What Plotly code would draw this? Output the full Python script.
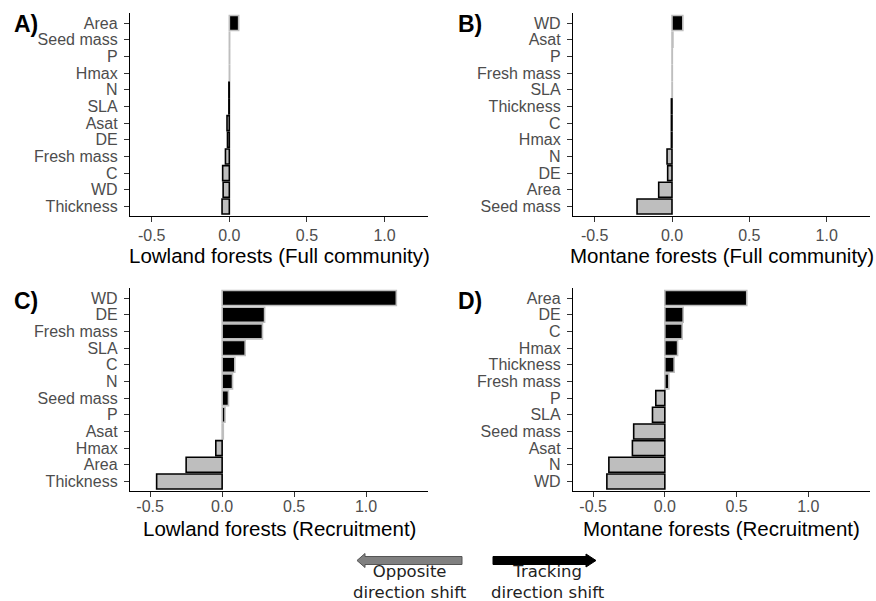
import plotly.graph_objects as go

W, H = 876, 601
GREY = "#BEBEBE"

# ---------------- data (top-to-bottom order as displayed) ----------------
a_traits = ["Area", "Seed mass", "P", "Hmax", "N", "SLA", "Asat", "DE",
            "Fresh mass", "C", "WD", "Thickness"]
a_values = [0.060, 0.002, 0.002, 0.002, -0.003, -0.003, -0.015, -0.012,
            -0.025, -0.043, -0.040, -0.047]

b_traits = ["WD", "Asat", "P", "Fresh mass", "SLA", "Thickness", "C", "Hmax",
            "N", "DE", "Area", "Seed mass"]
b_values = [0.070, 0.006, 0.002, 0.002, 0.002, -0.004, -0.004, -0.004,
            -0.032, -0.028, -0.086, -0.226]

c_traits = ["WD", "DE", "Fresh mass", "SLA", "C", "N", "Seed mass", "P",
            "Asat", "Hmax", "Area", "Thickness"]
c_values = [1.210, 0.295, 0.280, 0.160, 0.088, 0.072, 0.044, 0.020,
            0.008, -0.044, -0.250, -0.455]

d_traits = ["Area", "DE", "C", "Hmax", "Thickness", "Fresh mass", "P", "SLA",
            "Seed mass", "Asat", "N", "WD"]
d_values = [0.571, 0.128, 0.121, 0.089, 0.065, 0.028, -0.063, -0.086,
            -0.217, -0.226, -0.390, -0.404]

x_ticks = [-0.5, 0.0, 0.5, 1.0]
x_tick_labels = ["-0.5", "0.0", "0.5", "1.0"]

panel_letters = ["A)", "B)", "C)", "D)"]
panel_titles = ["Lowland forests (Full community)", "Montane forests (Full community)",
                "Lowland forests (Recruitment)", "Montane forests (Recruitment)"]

panels = [(a_traits, a_values), (b_traits, b_values),
          (c_traits, c_values), (d_traits, d_values)]

# ---------------- layout geometry (pixels) ----------------
def px_x(p):
    return p / W

def px_y(p):
    return 1 - p / H

x_doms = [(130, 428), (573, 870), (130, 428), (573, 870)]
y_doms = [(13, 216), (13, 216), (288, 491), (288, 491)]
x_ranges = [[-0.64, 1.28], [-0.64, 1.28], [-0.64, 1.43], [-0.64, 1.43]]
x_standoff = [0, 0, -4, -4]
letter_pos = [(12, 24), (456, 24), (12, 301), (456, 301)]
title_y = [255, 255, 528, 528]

FONT = "Liberation Sans, Arial, Helvetica, sans-serif"

fig = go.Figure()
layout = dict(
    width=W, height=H,
    margin=dict(l=0, r=0, t=0, b=0),
    paper_bgcolor="white", plot_bgcolor="white",
    showlegend=False,
    bargap=0.1,
    font=dict(family=FONT, size=16, color="#4D4D4D"),
)

annotations = []
for i, (traits, vals) in enumerate(panels):
    sfx = "" if i == 0 else str(i + 1)
    fills = ["black" if v > 0 else GREY for v in vals]
    lines = [GREY if v > 0 else "black" for v in vals]
    fig.add_trace(go.Bar(
        x=vals, y=traits, orientation="h",
        marker=dict(color=fills, line=dict(color=lines, width=1.6)),
        width=0.9,
        xaxis="x" + sfx, yaxis="y" + sfx,
        hoverinfo="x+y",
    ))
    n = len(traits)
    layout["xaxis" + sfx] = dict(
        domain=[px_x(x_doms[i][0]), px_x(x_doms[i][1])],
        anchor="y" + sfx,
        range=x_ranges[i],
        tickmode="array", tickvals=x_ticks, ticktext=x_tick_labels,
        showgrid=False, zeroline=False,
        showline=True, linecolor="black", linewidth=1.3,
        ticks="outside", ticklen=5, tickwidth=1.2, tickcolor="#333333",
        tickfont=dict(family=FONT, size=16, color="#4D4D4D"),
        ticklabelstandoff=x_standoff[i],
        automargin=False,
        fixedrange=True,
    )
    layout["yaxis" + sfx] = dict(
        domain=[px_y(y_doms[i][1]), px_y(y_doms[i][0])],
        anchor="x" + sfx,
        type="category",
        categoryorder="array", categoryarray=traits,
        tickmode="array", tickvals=traits, ticktext=traits,
        range=[n - 0.43, -0.6],
        showgrid=False, zeroline=False,
        showline=True, linecolor="black", linewidth=1.3,
        ticks="outside", ticklen=5, tickwidth=1.2, tickcolor="#333333",
        tickfont=dict(family=FONT, size=16, color="#4D4D4D"),
        ticklabelstandoff=3,
        automargin=False,
        fixedrange=True,
    )
    annotations.append(dict(
        text=f"<b>{panel_letters[i]}</b>", xref="paper", yref="paper",
        x=px_x(letter_pos[i][0]), y=px_y(letter_pos[i][1]),
        xanchor="left", yanchor="middle", showarrow=False,
        font=dict(family=FONT, size=23, color="black"),
    ))
    annotations.append(dict(
        text=panel_titles[i], xref="paper", yref="paper",
        x=px_x((x_doms[i][0] + x_doms[i][1]) / 2), y=px_y(title_y[i]),
        xanchor="center", yanchor="middle", showarrow=False,
        font=dict(family=FONT, size=20.5, color="black"),
    ))

# ---------------- direction arrows legend ----------------
def path(points):
    s = "M " + " L ".join(f"{px_x(x):.5f},{px_y(y):.5f}" for x, y in points) + " Z"
    return s

grey_arrow = [(462, 556.5), (365, 556.5), (365, 553.5), (357, 560.5),
              (365, 567.5), (365, 564.5), (462, 564.5)]
black_arrow = [(493, 556.5), (586, 556.5), (586, 554), (596, 560.5),
               (586, 567), (586, 564.5), (493, 564.5)]
shapes = [
    dict(type="path", xref="paper", yref="paper", path=path(grey_arrow),
         fillcolor="#808080", line=dict(color="#555555", width=1)),
    dict(type="path", xref="paper", yref="paper", path=path(black_arrow),
         fillcolor="black", line=dict(color="black", width=1)),
]
ARROW_FONT = "DejaVu Sans, Verdana, sans-serif"
annotations.append(dict(
    text="Opposite<br>direction shift", xref="paper", yref="paper",
    x=px_x(410), y=px_y(582), xanchor="center", yanchor="middle",
    showarrow=False, align="center",
    font=dict(family=ARROW_FONT, size=16.5, color="#222222"),
))
annotations.append(dict(
    text="Tracking<br>direction shift", xref="paper", yref="paper",
    x=px_x(548), y=px_y(582), xanchor="center", yanchor="middle",
    showarrow=False, align="center",
    font=dict(family=ARROW_FONT, size=16.5, color="#222222"),
))

layout["annotations"] = annotations
layout["shapes"] = shapes
fig.update_layout(**layout)

fig.write_html("out.html")
